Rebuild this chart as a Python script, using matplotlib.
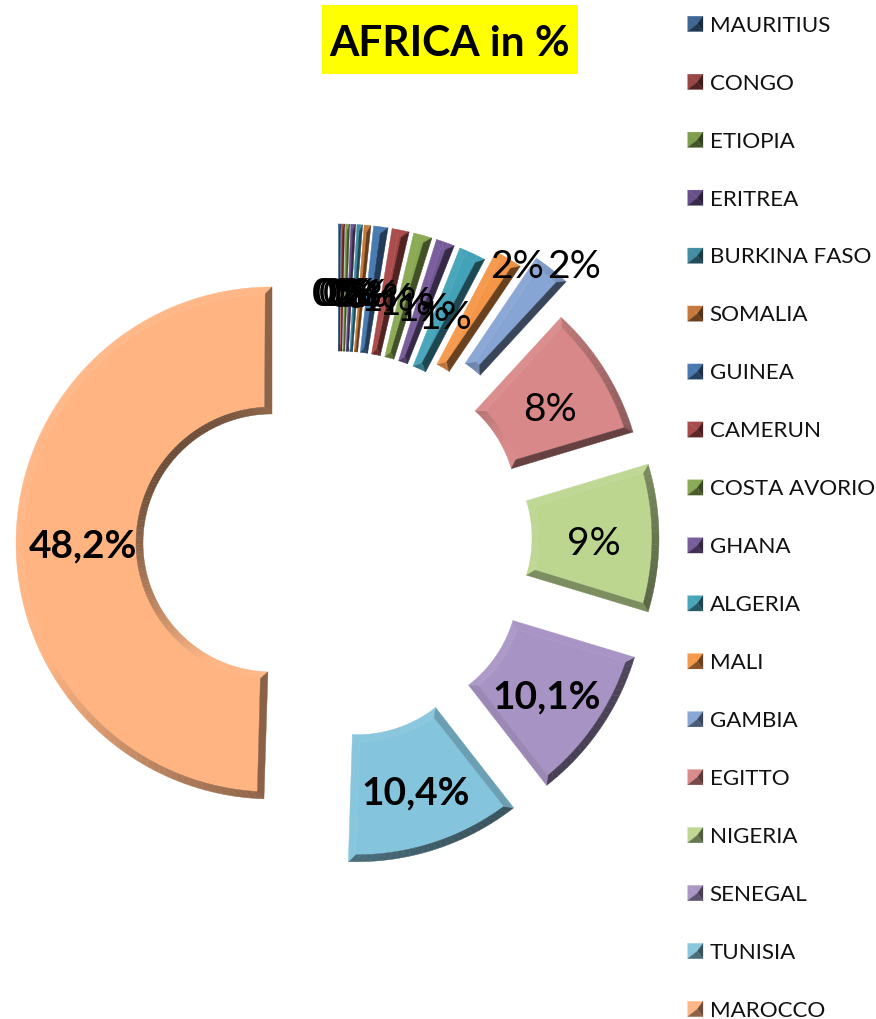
import numpy as np
import matplotlib
matplotlib.use("Agg")
import matplotlib.pyplot as plt
from matplotlib.collections import PolyCollection
from matplotlib.legend_handler import HandlerBase
from matplotlib.patches import Patch, Polygon, Rectangle

plt.rcParams['font.family'] = ['Lato', 'DejaVu Sans']

# ---- data -----
countries = ["MAURITIUS", "CONGO", "ETIOPIA", "ERITREA", "BURKINA FASO", "SOMALIA",
             "GUINEA", "CAMERUN", "COSTA AVORIO", "GHANA", "ALGERIA", "MALI",
             "GAMBIA", "EGITTO", "NIGERIA", "SENEGAL", "TUNISIA", "MAROCCO"]
# slice sizes
values = [0.15, 0.2, 0.25, 0.3, 0.35, 0.42, 0.9, 1.08, 1.17, 1.17, 1.7, 1.75,
          2.36, 8.5, 9.3, 9.8, 11.0, 49.4]
labels = ["0%", "0%", "0%", "0%", "0%", "0%", "0%", "1%", "1%", "1%", "1%", "2%",
          "2%", "8%", "9%", "10,1%", "10,4%", "48,2%"]
bold_labels = ["10,1%", "10,4%", "48,2%"]
colors = ["#38618f", "#964040", "#7a9a48", "#644b88", "#3c8aa0", "#c47434",
          "#4375ad", "#a84646", "#88a850", "#745898", "#42a2b8", "#f59646",
          "#86a4d4", "#d88888", "#bcd690", "#a894c4", "#84c4dc", "#ffb482"]

# ---- layout ----
W, H = 876, 1019
CX, CY = 338, 546
R_OUT, R_IN = 256, 129
EXPLODE = 66
BEVEL = 7
LABEL_R = 191
slice_nudge = {"MALI": (5, -11), "GAMBIA": (14, -24), "EGITTO": (-6, -5), "NIGERIA": (-1, -8),
               "SENEGAL": (-3, 0), "TUNISIA": (-2, -3), "MAROCCO": (0, -2)}
label_shift = {"MALI": (42, -53), "GAMBIA": (63, -59), "MAROCCO": (2, 0)}


def shade(rgb, nx, ny):
    d = (-0.7 * nx + 0.7 * ny)
    f = 0.42 + 0.58 * np.clip((d + 1) / 1.3, 0, 1)
    c = np.array(rgb) * f
    if d > 0.3:
        c = c + (1 - c) * 0.05 * (d - 0.3) / 0.7
    return tuple(np.clip(c, 0, 1))


def xy(cx, cy, r, a):
    return cx + r * np.cos(a), cy - r * np.sin(a)


fig = plt.figure(figsize=(W / 100, H / 100), dpi=100)
ax = fig.add_axes([0, 0, 1, 1])
ax.set_xlim(0, W)
ax.set_ylim(H, 0)
ax.axis("off")

total = sum(values)
start = np.pi / 2
for name, val, lab, col in zip(countries, values, labels, colors):
    sweep = 2 * np.pi * val / total
    a0, a1 = start, start - sweep
    mid = (a0 + a1) / 2
    start = a1
    cx, cy = xy(CX, CY, EXPLODE, mid)
    nx_, ny_ = slice_nudge.get(name, (0, 0))
    cx, cy = cx + nx_, cy + ny_
    rgb = matplotlib.colors.to_rgb(col)
    n = max(3, int(np.degrees(sweep) / 1.5))
    t = np.linspace(a0, a1, n + 1)
    ins_o = min(BEVEL / R_OUT, sweep / 2)
    ins_i = min(BEVEL / R_IN, sweep / 2)
    to = np.linspace(a0 - ins_o, a1 + ins_o, n + 1)
    ti = np.linspace(a0 - ins_i, a1 + ins_i, n + 1)
    ro, ri = R_OUT - BEVEL, R_IN + BEVEL
    P_oo = np.column_stack(xy(cx, cy, R_OUT, t))
    P_oi = np.column_stack(xy(cx, cy, ro, to))
    P_io = np.column_stack(xy(cx, cy, R_IN, t))
    P_ii = np.column_stack(xy(cx, cy, ri, ti))
    polys, fcs = [], []
    for k in range(n):
        am = (t[k] + t[k + 1]) / 2
        polys.append([P_oo[k], P_oo[k + 1], P_oi[k + 1], P_oi[k]])
        fcs.append(shade(rgb, np.cos(am), np.sin(am)))
        polys.append([P_io[k], P_io[k + 1], P_ii[k + 1], P_ii[k]])
        fcs.append(shade(rgb, -np.cos(am), -np.sin(am)))
    polys.append([P_oo[0], P_io[0], P_ii[0], P_oi[0]])
    fcs.append(shade(rgb, np.cos(a0 + np.pi / 2), np.sin(a0 + np.pi / 2)))
    polys.append([P_oo[-1], P_io[-1], P_ii[-1], P_oi[-1]])
    fcs.append(shade(rgb, np.cos(a1 - np.pi / 2), np.sin(a1 - np.pi / 2)))
    face = np.vstack([P_oi, P_ii[::-1]])
    ax.add_patch(Polygon(face, closed=True, fc=col, ec=col, lw=0.3, zorder=2))
    ax.add_collection(PolyCollection(polys, facecolors=fcs, edgecolors=fcs,
                                     linewidths=0.3, zorder=3))
    lx, ly = xy(cx, cy, LABEL_R, mid)
    dx, dy = label_shift.get(name, (0, 0))
    ax.text(lx + dx, ly + dy + 6, lab, ha="center", va="center", fontsize=28,
            color="black", fontweight="bold" if lab in bold_labels else "normal",
            zorder=5)


class PyramidHandler(HandlerBase):
    def create_artists(self, legend, orig, xd, yd, width, height, fontsize, trans):
        s = 11
        x0, y0 = 0, height / 2 - s / 2
        c = (x0 + s / 2 + 1.5, y0 + s / 2)
        bl, br = (x0, y0), (x0 + s, y0)
        tl, tr = (x0, y0 + s), (x0 + s, y0 + s)
        rgb = matplotlib.colors.to_rgb(orig.get_facecolor())
        tris = [([tl, tr, c], shade(rgb, 0, 1)),
                ([tl, bl, c], shade(rgb, -1, 0)),
                ([br, tr, c], shade(rgb, 0.7, -0.7)),
                ([bl, br, c], shade(rgb, 0, -1))]
        return [Polygon(p, closed=True, fc=f, ec=f, lw=0.2, transform=trans) for p, f in tris]


handles = [Patch(facecolor=c, label=n) for c, n in zip(colors, countries)]
leg = ax.legend(handles=handles, loc="upper left", bbox_to_anchor=(681 / W, 1 - 9 / H),
                bbox_transform=fig.transFigure, frameon=False, fontsize=16.1,
                labelspacing=1.697, handlelength=0.82, handletextpad=0.16, borderpad=0.3,
                borderaxespad=0, handler_map={Patch: PyramidHandler()})
for t in leg.get_texts():
    t.set_color("#111111")

ax.add_patch(Rectangle((322, 5), 256, 69, fc="#ffff00", ec="none", zorder=5))
ax.text(450, 44, "AFRICA in %", ha="center", va="center", fontsize=30.5,
        fontweight="bold", color="black", zorder=6)

fig.savefig("out.png", dpi=100)
